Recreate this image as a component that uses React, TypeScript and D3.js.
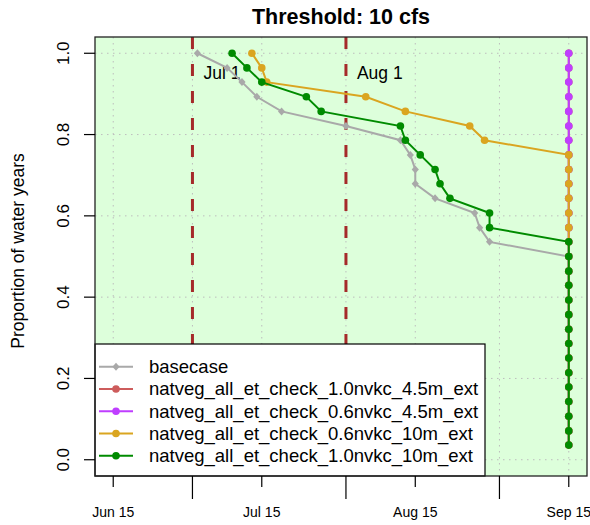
import React, { useRef, useEffect } from "react";
import * as d3 from "d3";

// dates (MM-DD) at which each water year drops below the threshold, sorted
const basecase = [
  "07-02", "07-08", "07-11", "07-14", "07-19", "08-01", "08-12",
  "08-14", "08-15", "08-15", "08-19", "08-27", "08-28", "08-30",
  "09-15", "09-15", "09-15", "09-15", "09-15", "09-15", "09-15",
  "09-15", "09-15", "09-15", "09-15", "09-15", "09-15", "09-15",
];
const nv10_45 = [
  "09-15", "09-15", "09-15", "09-15", "09-15", "09-15", "09-15",
  "09-15", "09-15", "09-15", "09-15", "09-15", "09-15", "09-15",
  "09-15", "09-15", "09-15", "09-15", "09-15", "09-15", "09-15",
  "09-15", "09-15", "09-15", "09-15", "09-15", "09-15", "09-15",
];
const nv06_45 = [
  "09-15", "09-15", "09-15", "09-15", "09-15", "09-15", "09-15",
  "09-15", "09-15", "09-15", "09-15", "09-15", "09-15", "09-15",
  "09-15", "09-15", "09-15", "09-15", "09-15", "09-15", "09-15",
  "09-15", "09-15", "09-15", "09-15", "09-15", "09-15", "09-15",
];
const nv06_10 = [
  "07-13", "07-15", "07-16", "08-05", "08-13", "08-26", "08-29",
  "09-15", "09-15", "09-15", "09-15", "09-15", "09-15", "09-15",
  "09-15", "09-15", "09-15", "09-15", "09-15", "09-15", "09-15",
  "09-15", "09-15", "09-15", "09-15", "09-15", "09-15", "09-15",
];
const nv10_10 = [
  "07-09", "07-12", "07-15", "07-24", "07-27", "08-12", "08-13",
  "08-16", "08-19", "08-20", "08-22", "08-30", "08-30",
  "09-15", "09-15", "09-15", "09-15", "09-15", "09-15", "09-15",
  "09-15", "09-15", "09-15", "09-15", "09-15", "09-15", "09-15", "09-15",
];
// proportion of water years still above threshold (rank / 28)
const proportions = [
  1.0, 0.964, 0.929, 0.893, 0.857, 0.821, 0.786, 0.75, 0.714, 0.679,
  0.643, 0.607, 0.571, 0.536, 0.5, 0.464, 0.429, 0.393, 0.357, 0.321,
  0.286, 0.25, 0.214, 0.179, 0.143, 0.107, 0.071, 0.036,
];

const seriesNames = [
  "basecase",
  "natveg_all_et_check_1.0nvkc_4.5m_ext",
  "natveg_all_et_check_0.6nvkc_4.5m_ext",
  "natveg_all_et_check_0.6nvkc_10m_ext",
  "natveg_all_et_check_1.0nvkc_10m_ext",
];
const seriesDates = [basecase, nv10_45, nv06_45, nv06_10, nv10_10];
const seriesColors = ["#a9a9a9", "#cd5c5c", "#bf3eff", "#daa520", "#008b00"];

const labelTicks = ["06-15", "07-15", "08-15", "09-15"];
const longTicks = ["07-01", "08-01", "09-01"];
const markerLines = [
  { date: "07-01", label: "Jul 1" },
  { date: "08-01", label: "Aug 1" },
];
const yTicks = [0, 0.2, 0.4, 0.6, 0.8, 1.0];

const toDate = (s: string) => {
  const [m, d] = s.split("-").map(Number);
  return new Date(Date.UTC(2001, m - 1, d));
};

const FONT = "'Liberation Sans', Arial, sans-serif";
const DIAMOND = "M0,-4L3.6,0L0,4L-3.6,0Z";

const ThresholdChart = ({ width, height }: { width: number; height: number }) => {
  const ref = useRef(null);

  useEffect(() => {
    const svg = d3.select(ref.current);
    svg.selectAll("*").remove();

    const left = 95, right = 587, top = 37, bottom = 476;

    // R style 4% padding on both axes
    const x0 = toDate("06-15").getTime();
    const x1 = toDate("09-15").getTime();
    const padX = (x1 - x0) * 0.04;
    const x = d3
      .scaleUtc()
      .domain([new Date(x0 - padX), new Date(x1 + padX)])
      .range([left, right]);
    const y = d3.scaleLinear().domain([-0.04, 1.04]).range([bottom, top]);

    svg.attr("width", width).attr("height", height).style("font-family", FONT);

    // background
    svg
      .append("rect")
      .attr("x", left)
      .attr("y", top)
      .attr("width", right - left)
      .attr("height", bottom - top)
      .attr("fill", "#ddffdb");

    // grid
    const grid = svg.append("g").attr("stroke", "#bdbdbd").attr("stroke-dasharray", "1.5,4.5");
    [...labelTicks, ...longTicks].forEach((t) => {
      grid
        .append("line")
        .attr("x1", x(toDate(t)))
        .attr("x2", x(toDate(t)))
        .attr("y1", top)
        .attr("y2", bottom);
    });
    yTicks.forEach((v) => {
      grid
        .append("line")
        .attr("x1", left)
        .attr("x2", right)
        .attr("y1", y(v))
        .attr("y2", y(v));
    });

    // Jul 1 / Aug 1 markers
    markerLines.forEach((m) => {
      const xp = x(toDate(m.date));
      svg
        .append("line")
        .attr("x1", xp)
        .attr("x2", xp)
        .attr("y1", top)
        .attr("y2", bottom)
        .attr("stroke", "#a52a2a")
        .attr("stroke-width", 3)
        .attr("stroke-dasharray", "12,15");
      svg
        .append("text")
        .attr("x", xp + 11)
        .attr("y", 79)
        .attr("font-size", 17.5)
        .text(m.label);
    });

    // series
    const line = d3
      .line<[Date, number]>()
      .x((d) => x(d[0]))
      .y((d) => y(d[1]));

    seriesDates.forEach((dates, i) => {
      const pts: [Date, number][] = dates.map((s, k) => [toDate(s), proportions[k]]);
      const g = svg.append("g");
      g.append("path")
        .attr("d", line(pts))
        .attr("fill", "none")
        .attr("stroke", seriesColors[i])
        .attr("stroke-width", 2);
      if (i === 0) {
        g.selectAll("path.pt")
          .data(pts)
          .enter()
          .append("path")
          .attr("d", DIAMOND)
          .attr("transform", (d) => `translate(${x(d[0])},${y(d[1])})`)
          .attr("fill", seriesColors[i]);
      } else {
        g.selectAll("circle")
          .data(pts)
          .enter()
          .append("circle")
          .attr("cx", (d) => x(d[0]))
          .attr("cy", (d) => y(d[1]))
          .attr("r", 3.8)
          .attr("fill", seriesColors[i]);
      }
    });

    // legend
    const lg = svg.append("g");
    const lgTop = 344;
    lg.append("rect")
      .attr("x", left)
      .attr("y", lgTop)
      .attr("width", 485 - left)
      .attr("height", bottom - lgTop)
      .attr("fill", "white")
      .attr("stroke", "black")
      .attr("stroke-width", 1.2);
    seriesNames.forEach((name, i) => {
      const yy = 366.7 + i * 22.25;
      lg.append("line")
        .attr("x1", 99)
        .attr("x2", 133)
        .attr("y1", yy)
        .attr("y2", yy)
        .attr("stroke", seriesColors[i])
        .attr("stroke-width", 2);
      if (i === 0) {
        lg.append("path")
          .attr("d", DIAMOND)
          .attr("transform", `translate(116,${yy})`)
          .attr("fill", seriesColors[i]);
      } else {
        lg.append("circle")
          .attr("cx", 116)
          .attr("cy", yy)
          .attr("r", 3.8)
          .attr("fill", seriesColors[i]);
      }
      lg.append("text")
        .attr("x", 149)
        .attr("y", yy + 6.5)
        .attr("font-size", 18.5)
        .text(name);
    });

    // frame
    svg
      .append("rect")
      .attr("x", left)
      .attr("y", top)
      .attr("width", right - left)
      .attr("height", bottom - top)
      .attr("fill", "none")
      .attr("stroke", "#222")
      .attr("stroke-width", 1.3);

    // x axis
    const xa = svg.append("g").attr("stroke", "black").attr("stroke-width", 1.2);
    labelTicks.forEach((t) => {
      const xp = x(toDate(t));
      xa.append("line").attr("x1", xp).attr("x2", xp).attr("y1", bottom).attr("y2", bottom + 11);
      svg
        .append("text")
        .attr("x", xp)
        .attr("y", 516.5)
        .attr("text-anchor", "middle")
        .attr("font-size", 14)
        .text(d3.utcFormat("%b %-d")(toDate(t)));
    });
    longTicks.forEach((t) => {
      const xp = x(toDate(t));
      xa.append("line").attr("x1", xp).attr("x2", xp).attr("y1", bottom).attr("y2", bottom + 23);
    });

    // y axis
    yTicks.forEach((v) => {
      svg
        .append("line")
        .attr("x1", left - 11)
        .attr("x2", left)
        .attr("y1", y(v))
        .attr("y2", y(v))
        .attr("stroke", "black")
        .attr("stroke-width", 1.2);
      svg
        .append("text")
        .attr("transform", `translate(69,${y(v)}) rotate(-90)`)
        .attr("text-anchor", "middle")
        .attr("font-size", 17)
        .text(d3.format(".1f")(v));
    });
    svg
      .append("text")
      .attr("transform", `translate(24,251) rotate(-90)`)
      .attr("text-anchor", "middle")
      .attr("font-size", 17.5)
      .text("Proportion of water years");

    // title
    svg
      .append("text")
      .attr("x", (left + right) / 2)
      .attr("y", 24)
      .attr("text-anchor", "middle")
      .attr("font-size", 21.5)
      .attr("font-weight", "bold")
      .text("Threshold: 10 cfs");
  }, [width, height]);

  return <svg ref={ref} style={{ position: "absolute", left: 0, top: 0 }}></svg>;
};

export default function App() {
  return <ThresholdChart width={590} height={525} />;
}
